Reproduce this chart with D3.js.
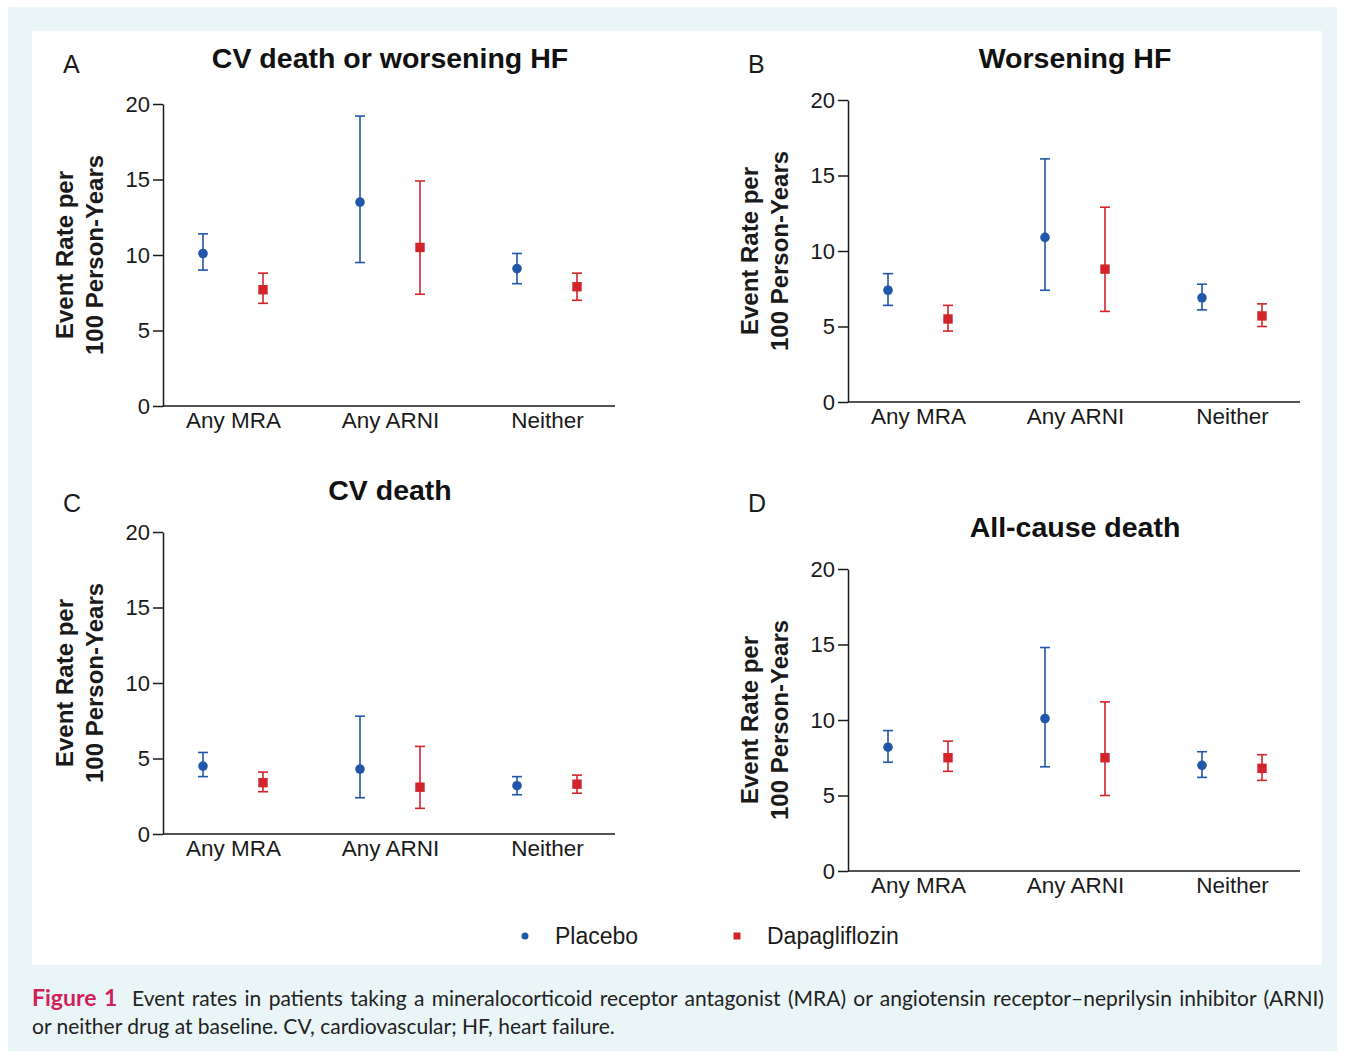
<!DOCTYPE html>
<html>
<head>
<meta charset="utf-8">
<script src="https://cdn.jsdelivr.net/npm/d3@7"></script>
<style>
  html, body { margin: 0; padding: 0; background: #fff; }
  svg { display: block; }
</style>
</head>
<body>
<svg id="fig" width="1345" height="1058"></svg>
<script>
// categories, series, ticks
const categories = ['Any MRA', 'Any ARNI', 'Neither'];
const seriesNames = ['Placebo', 'Dapagliflozin'];
const yTicks = [0, 5, 10, 15, 20];
const panelLetters = ['A', 'B', 'C', 'D'];
const panelTitles = ['CV death or worsening HF', 'Worsening HF', 'CV death', 'All-cause death'];

// [rate, lower CI, upper CI] per category
const aPlacebo = [[10.1, 9.0, 11.4], [13.5, 9.5, 19.2], [9.1, 8.1, 10.1]];
const aDapa    = [[7.7, 6.8, 8.8],   [10.5, 7.4, 14.9], [7.9, 7.0, 8.8]];
const bPlacebo = [[7.4, 6.4, 8.5],   [10.9, 7.4, 16.1], [6.9, 6.1, 7.8]];
const bDapa    = [[5.5, 4.7, 6.4],   [8.8, 6.0, 12.9],  [5.7, 5.0, 6.5]];
const cPlacebo = [[4.5, 3.8, 5.4],   [4.3, 2.4, 7.8],   [3.2, 2.6, 3.8]];
const cDapa    = [[3.4, 2.8, 4.1],   [3.1, 1.7, 5.8],   [3.3, 2.7, 3.9]];
const dPlacebo = [[8.2, 7.2, 9.3],   [10.1, 6.9, 14.8], [7.0, 6.2, 7.9]];
const dDapa    = [[7.5, 6.6, 8.6],   [7.5, 5.0, 11.2],  [6.8, 6.0, 7.7]];

const panelData = [[aPlacebo, aDapa], [bPlacebo, bDapa], [cPlacebo, cDapa], [dPlacebo, dDapa]];

const blue = '#2156a8';
const red = '#d3242b';
const ink = '#1a1a1a';
const sans = 'Liberation Sans, Arial, Helvetica, sans-serif';

// panel placement
const layout = [
    { x0: 163, yTop: 104, yBot: 406, letterY: 73, titleY: 68 },
    { x0: 848, yTop: 100, yBot: 402, letterY: 73, titleY: 68 },
    { x0: 163, yTop: 532, yBot: 834, letterY: 512, titleY: 500 },
    { x0: 848, yTop: 569, yBot: 871, letterY: 512, titleY: 537 }
];
const axisLen = 452;

const svg = d3.select('#fig').attr('font-family', sans);

// backgrounds
svg.append('rect').attr('x', 8).attr('y', 7).attr('width', 1329).attr('height', 1044).attr('fill', '#eaf5f8');
svg.append('rect').attr('x', 32).attr('y', 31).attr('width', 1290).attr('height', 934).attr('fill', '#fff');

layout.forEach(function(p, i) {
    const g = svg.append('g');

    const y = d3.scaleLinear().domain([0, 20]).range([p.yBot, p.yTop]);
    const x = d3.scalePoint().domain(categories).range([p.x0 + 70, p.x0 + 384]);
    const offset = d3.scalePoint().domain(seriesNames).range([-30, 30]);

    // y axis
    const yAxis = g.append('g')
        .attr('transform', 'translate(' + p.x0 + ',0)')
        .call(d3.axisLeft(y).tickValues(yTicks).tickSize(10).tickSizeOuter(0).tickPadding(3));
    yAxis.attr('font-family', sans);
    yAxis.selectAll('path, line').attr('stroke', ink).attr('stroke-width', 1.5);
    yAxis.selectAll('text')
        .attr('fill', ink)
        .attr('font-family', sans)
        .attr('font-size', 22);

    // x axis
    g.append('line')
        .attr('x1', p.x0).attr('x2', p.x0 + axisLen)
        .attr('y1', p.yBot).attr('y2', p.yBot)
        .attr('stroke', ink).attr('stroke-width', 1.5);
    const xAxis = g.append('g')
        .attr('transform', 'translate(0,' + p.yBot + ')')
        .call(d3.axisBottom(x).tickSize(0).tickPadding(6));
    xAxis.attr('font-family', sans);
    xAxis.select('.domain').remove();
    xAxis.selectAll('text')
        .attr('fill', ink)
        .attr('font-family', sans)
        .attr('font-size', 22.5);

    // y label
    const yl = g.append('text')
        .attr('transform', 'translate(' + (p.x0 - 90) + ',' + ((p.yTop + p.yBot) / 2) + ') rotate(-90)')
        .attr('text-anchor', 'middle')
        .attr('font-size', 24)
        .attr('font-weight', 'bold')
        .attr('fill', ink);
    yl.append('tspan').attr('x', 0).attr('dy', 0).text('Event Rate per');
    yl.append('tspan').attr('x', 0).attr('dy', 30).text('100 Person-Years');

    // letter + title
    g.append('text')
        .attr('x', p.x0 - 100).attr('y', p.letterY)
        .attr('font-size', 25)
        .attr('fill', ink)
        .text(panelLetters[i]);
    g.append('text')
        .attr('x', x('Any ARNI')).attr('y', p.titleY)
        .attr('text-anchor', 'middle')
        .attr('font-size', 28.5).attr('font-weight', 'bold')
        .attr('fill', '#111')
        .text(panelTitles[i]);

    // error bars and markers
    panelData[i].forEach(function(vals, s) {
        const col = s === 0 ? blue : red;
        const sg = g.append('g');
        const pts = sg.selectAll('g.pt')
            .data(vals)
            .enter().append('g')
            .attr('class', 'pt')
            .attr('transform', function(d, k) {
                return 'translate(' + (x(categories[k]) + offset(seriesNames[s])) + ',0)';
            });

        pts.append('line')
            .attr('x1', 0).attr('x2', 0)
            .attr('y1', function(d) { return y(d[1]); })
            .attr('y2', function(d) { return y(d[2]); })
            .attr('stroke', col).attr('stroke-width', 1.6);
        pts.append('line')
            .attr('x1', -5).attr('x2', 5)
            .attr('y1', function(d) { return y(d[1]); })
            .attr('y2', function(d) { return y(d[1]); })
            .attr('stroke', col).attr('stroke-width', 1.6);
        pts.append('line')
            .attr('x1', -5).attr('x2', 5)
            .attr('y1', function(d) { return y(d[2]); })
            .attr('y2', function(d) { return y(d[2]); })
            .attr('stroke', col).attr('stroke-width', 1.6);

        if (s === 0) {
            pts.append('circle')
                .attr('cx', 0).attr('cy', function(d) { return y(d[0]); })
                .attr('r', 4.8).attr('fill', col);
        } else {
            pts.append('rect')
                .attr('x', -4.7).attr('y', function(d) { return y(d[0]) - 4.7; })
                .attr('width', 9.4).attr('height', 9.4).attr('fill', col);
        }
    });
});

// legend
const legend = svg.append('g');
const legendX = [525, 737];
seriesNames.forEach(function(name, s) {
    if (s === 0) {
        legend.append('circle').attr('cx', legendX[s]).attr('cy', 936).attr('r', 3.5).attr('fill', blue);
    } else {
        legend.append('rect').attr('x', legendX[s] - 3.5).attr('y', 932.5).attr('width', 7).attr('height', 7).attr('fill', red);
    }
    legend.append('text')
        .attr('x', legendX[s] + 30).attr('y', 944)
        .attr('font-size', 23)
        .attr('fill', ink)
        .text(name);
});

// caption
const capFont = 'Lato, Open Sans, sans-serif';
const cap1 = svg.append('text')
    .attr('x', 32).attr('y', 1006)
    .attr('font-family', capFont).attr('font-size', 21)
    .attr('fill', '#222');
cap1.append('tspan')
    .attr('font-weight', 'bold').attr('font-size', 23).attr('fill', '#d01f5c')
    .text('Figure 1');
cap1.append('tspan')
    .text('\u00a0 Event rates in patients taking a mineralocorticoid receptor antagonist (MRA) or angiotensin receptor\u2013neprilysin inhibitor (ARNI)');

// justify first line to the panel width
const w1 = cap1.node().getComputedTextLength();
const spaces = (cap1.text().match(/ /g) || []).length;
if (spaces > 0) cap1.style('word-spacing', ((1322 - 32 - w1) / spaces) + 'px');

svg.append('text')
    .attr('x', 32).attr('y', 1034)
    .attr('font-family', capFont).attr('font-size', 21)
    .attr('fill', '#222')
    .text('or neither drug at baseline. CV, cardiovascular; HF, heart failure.');
</script>
</body>
</html>
